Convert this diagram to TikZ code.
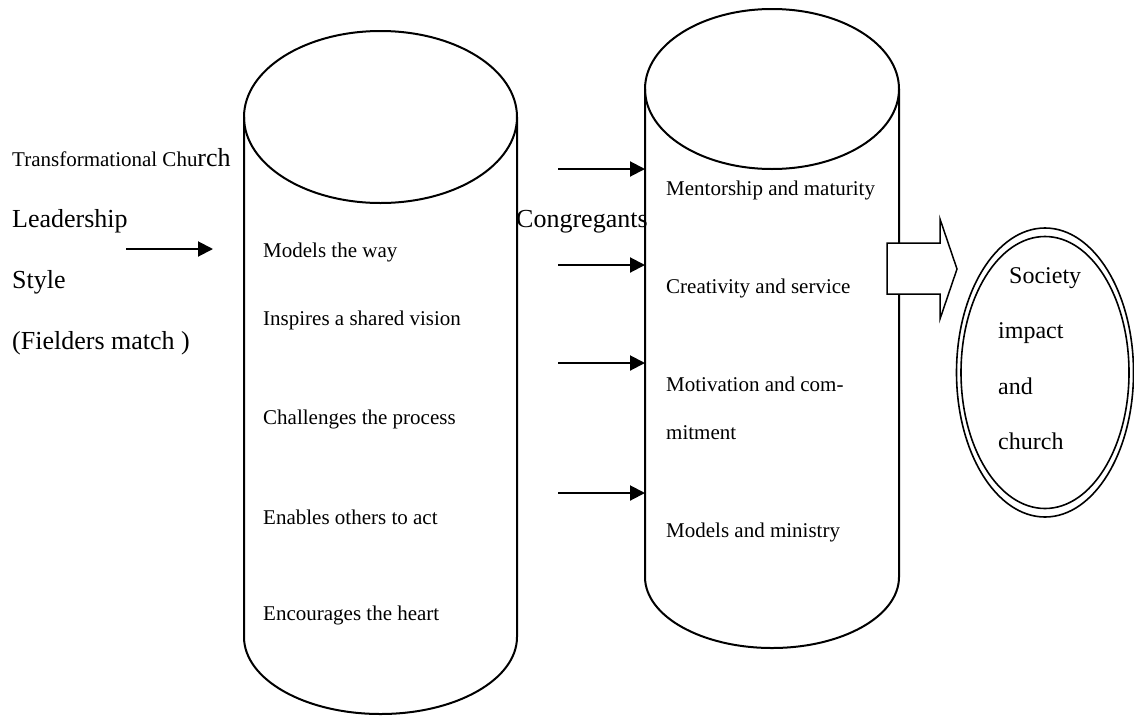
\documentclass[tikz,border=0pt]{standalone}
\usepackage{fontspec}
\setmainfont{Liberation Serif}
\usetikzlibrary{arrows.meta}
\tikzset{
  cyl/.style={line width=2pt, draw=black},
  txt/.style={anchor=base west, inner sep=0pt, font=\fontsize{21}{25}\selectfont},
  bigtxt/.style={anchor=base west, inner sep=0pt, font=\fontsize{26}{30}\selectfont},
  ovtxt/.style={anchor=base west, inner sep=0pt, font=\fontsize{24}{28}\selectfont},
  arr/.style={line width=2pt, -{Triangle[length=15pt,width=15pt]}},
  blockarrow/.style={line width=1.5pt, draw=black, fill=white},
  ring/.style={line width=1.6pt, draw=black}
}
\begin{document}
\begin{tikzpicture}[x=1pt,y=-1pt]
\useasboundingbox (0,0) rectangle (1134,715);
\clip (0,0) rectangle (1134,715);
% cylinder 1
\draw[cyl] (380.5,117) ellipse[x radius=136.5, y radius=86];
\draw[cyl] (244,117) -- (244,637) arc[start angle=180, end angle=360, x radius=136.5, y radius=-77] -- (517,117);
% cylinder 2
\draw[cyl] (772,89) ellipse[x radius=127, y radius=80];
\draw[cyl] (645,89) -- (645,577) arc[start angle=180, end angle=360, x radius=127, y radius=-71] -- (899,89);
% block arrow
\draw[blockarrow] (887,243) -- (940,243) -- (940,219) -- (957,269) -- (940,319) -- (940,294) -- (887,294) -- cycle;
% double ellipse
\draw[ring] (1045,372.5) ellipse[x radius=88.5, y radius=144.5];
\draw[ring] (1045,372.5) ellipse[x radius=84, y radius=136];
% left labels
\node[txt] (t1) at (12,166) {Transformational Chu{\fontsize{26}{30}\selectfont rch}};
\node[bigtxt] (t2) at (12,227) {Leadership};
\node[bigtxt] (t3) at (12,288) {Style};
\node[bigtxt] (t4) at (12,349) {(Fielders match )};
\node[bigtxt] (cg) at (516,227) {Congregants};
% cylinder 1 texts
\node[txt] (a1) at (263,257) {Models the way};
\node[txt] (a2) at (263,325) {Inspires a shared vision};
\node[txt] (a3) at (263,424) {Challenges the process};
\node[txt] (a4) at (263,524) {Enables others to act};
\node[txt] (a5) at (263,620) {Encourages the heart};
% cylinder 2 texts
\node[txt] (b1) at (666,195) {Mentorship and maturity};
\node[txt] (b2) at (666,293) {Creativity and service};
\node[txt] (b3) at (666,391) {Motivation and com-};
\node[txt] (b3b) at (666,439) {mitment};
\node[txt] (b4) at (666,537) {Models and ministry};
% oval texts
\node[ovtxt] (s1) at (1009,283) {Society};
\node[ovtxt] (s2) at (998,338) {impact};
\node[ovtxt] (s3) at (998,394) {and};
\node[ovtxt] (s4) at (998,449) {church};
% arrows
\coordinate (l0) at (126,249); \coordinate (l1) at (213,249);
\draw[arr] (l0) -- (l1);
\coordinate (r1s) at (558,169); \coordinate (r1e) at (645,169);
\coordinate (r2s) at (558,265); \coordinate (r2e) at (645,265);
\coordinate (r3s) at (558,363); \coordinate (r3e) at (645,363);
\coordinate (r4s) at (558,493); \coordinate (r4e) at (645,493);
\draw[arr] (r1s) -- (r1e);
\draw[arr] (r2s) -- (r2e);
\draw[arr] (r3s) -- (r3e);
\draw[arr] (r4s) -- (r4e);
\end{tikzpicture}
\end{document}
